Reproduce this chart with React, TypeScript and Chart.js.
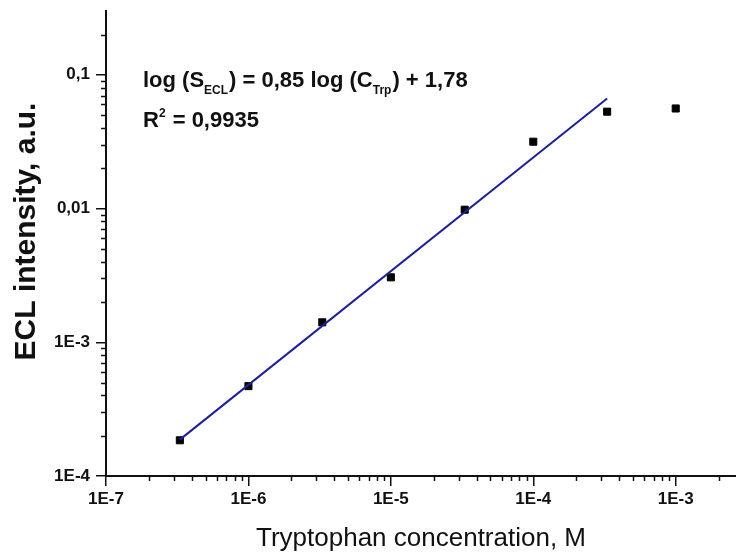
import React, { useEffect, useRef } from "react";
import { Chart, registerables } from "chart.js";

Chart.register(...registerables);

// ---- data ----
const concentrations = [3.3e-7, 1e-6, 3.3e-6, 1e-5, 3.3e-5, 1e-4, 3.3e-4, 1e-3];
const intensities = [1.85e-4, 4.7e-4, 1.41e-3, 3.06e-3, 9.8e-3, 0.0316, 0.053, 0.056];
const fitX = [3.3e-7, 3.3e-4];
const fitY = [1.87e-4, 0.0664];
const xMajorTicks = [1e-7, 1e-6, 1e-5, 1e-4, 1e-3];
const xTickLabels = ["1E-7", "1E-6", "1E-5", "1E-4", "1E-3"];
const yMajorTicks = [1e-4, 1e-3, 1e-2, 1e-1];
const yTickLabels = ["1E-4", "1E-3", "0,01", "0,1"];
const yTitle = "ECL intensity, a.u.";

const FONT = '"Liberation Sans", Arial, Helvetica, sans-serif';

const minorTicksPlugin = {
  id: "minorTicks",
  afterDraw(chart: any) {
    const { ctx, chartArea, scales } = chart;
    const xs = scales.x;
    const ys = scales.y;
    ctx.save();
    ctx.strokeStyle = "#111";
    ctx.lineWidth = 1.5;
    for (let d = -9; d <= 1; d++) {
      for (let m = 2; m <= 9; m++) {
        const v = m * Math.pow(10, d);
        if (v > xs.min && v <= xs.max) {
          const px = Math.round(xs.getPixelForValue(v)) + 0.5;
          ctx.beginPath();
          ctx.moveTo(px, chartArea.bottom);
          ctx.lineTo(px, chartArea.bottom + 5);
          ctx.stroke();
        }
        if (v > ys.min && v <= ys.max) {
          const py = Math.round(ys.getPixelForValue(v)) + 0.5;
          ctx.beginPath();
          ctx.moveTo(chartArea.left, py);
          ctx.lineTo(chartArea.left - 5, py);
          ctx.stroke();
        }
      }
    }
    ctx.restore();
  },
};

const yTitlePlugin = {
  id: "yTitle",
  afterDraw(chart: any) {
    const { ctx, chartArea } = chart;
    ctx.save();
    ctx.translate(27, (chartArea.top + chartArea.bottom) / 2 - 12);
    ctx.rotate(-Math.PI / 2);
    ctx.font = `bold 30px ${FONT}`;
    ctx.fillStyle = "#111";
    ctx.textAlign = "center";
    ctx.textBaseline = "middle";
    ctx.fillText(yTitle, 0, 0);
    ctx.restore();
  },
};

const annotationPlugin = {
  id: "fitAnnotation",
  afterDraw(chart: any) {
    const { ctx, chartArea } = chart;
    const x0 = chartArea.left + 37;
    const b1 = chartArea.top + 75.5;
    const b2 = chartArea.top + 115.5;
    const big = `bold 22px ${FONT}`;
    const small = `bold 12px ${FONT}`;
    ctx.save();
    ctx.fillStyle = "#111";
    ctx.textAlign = "left";
    ctx.textBaseline = "alphabetic";
    const segs1: [string, string, number][] = [
      ["log (S", big, 0],
      ["ECL", small, 7.5],
      [") = 0,85 log (C", big, 0],
      ["Trp", small, 7.5],
      [") + 1,78", big, 0],
    ];
    let x = x0;
    for (const [t, f, dy] of segs1) {
      ctx.font = f;
      ctx.fillText(t, x, b1 + dy);
      x += ctx.measureText(t).width + (f === small ? 1 : 0);
    }
    const segs2: [string, string, number][] = [
      ["R", big, 0],
      ["2", small, -10],
      [" = 0,9935", big, 0],
    ];
    x = x0;
    for (const [t, f, dy] of segs2) {
      ctx.font = f;
      ctx.fillText(t, x, b2 + dy);
      x += ctx.measureText(t).width + (f === small ? 1 : 0);
    }
    ctx.restore();
  },
};

export default function App() {
  const ref = useRef<HTMLCanvasElement | null>(null);

  useEffect(() => {
    if (!ref.current) return;
    const chart = new Chart(ref.current, {
      type: "scatter",
      data: {
        datasets: [
          {
            label: "Data",
            data: concentrations.map((c, i) => ({ x: c, y: intensities[i] })),
            pointStyle: "rect",
            pointRadius: 5,
            pointBackgroundColor: "#000",
            pointBorderColor: "#000",
            pointBorderWidth: 1,
            showLine: false,
            order: 1,
          },
          {
            label: "Fit",
            data: fitX.map((c, i) => ({ x: c, y: fitY[i] })),
            showLine: true,
            borderColor: "#1e1e9a",
            borderWidth: 2,
            pointRadius: 0,
            fill: false,
            order: 0,
          },
        ],
      },
      options: {
        animation: false,
        responsive: true,
        maintainAspectRatio: false,
        layout: { autoPadding: false, padding: { top: 11, right: 0, bottom: 0, left: 0 } },
        plugins: {
          legend: { display: false },
          tooltip: { enabled: false },
        },
        scales: {
          x: {
            type: "logarithmic",
            position: "bottom",
            min: 1e-7,
            max: 2.65e-3,
            afterBuildTicks: (scale: any) => {
              scale.ticks = xMajorTicks.map((v) => ({ value: v }));
            },
            afterFit: (scale: any) => {
              scale.height = 76;
              scale.paddingLeft = 0;
              scale.paddingRight = 0;
              scale.paddingTop = 0;
              scale.paddingBottom = 0;
            },
            ticks: {
              autoSkip: false,
              maxRotation: 0,
              padding: 3,
              color: "#111",
              font: { family: FONT, size: 17, weight: "bold" },
              callback: (_v: any, i: number) => xTickLabels[i],
            },
            grid: {
              drawOnChartArea: false,
              drawTicks: true,
              tickLength: 10,
              color: "#111",
              lineWidth: 1.5,
            },
            border: { display: true, color: "#111", width: 2 },
            title: {
              display: true,
              text: "Tryptophan concentration, M",
              color: "#111",
              font: { family: FONT, size: 26, weight: "normal", lineHeight: 1 },
              padding: { top: 0, bottom: 0 },
            },
          },
          y: {
            type: "logarithmic",
            position: "left",
            min: 1e-4,
            max: 0.3,
            afterBuildTicks: (scale: any) => {
              scale.ticks = yMajorTicks.map((v) => ({ value: v }));
            },
            afterFit: (scale: any) => {
              scale.width = 106;
              scale.paddingLeft = 0;
              scale.paddingRight = 0;
              scale.paddingTop = 0;
              scale.paddingBottom = 0;
            },
            ticks: {
              autoSkip: false,
              padding: 6,
              color: "#111",
              font: { family: FONT, size: 17, weight: "bold" },
              callback: (_v: any, i: number) => yTickLabels[i],
            },
            grid: {
              drawOnChartArea: false,
              drawTicks: true,
              tickLength: 10,
              color: "#111",
              lineWidth: 1.5,
            },
            border: { display: true, color: "#111", width: 2 },
            title: { display: false, text: yTitle },
          },
        },
      },
      plugins: [minorTicksPlugin, yTitlePlugin, annotationPlugin],
    });
    return () => chart.destroy();
  }, []);

  return (
    <div style={{ position: "fixed", left: 0, top: 0, width: 736, height: 552, background: "#fff" }}>
      <canvas ref={ref} />
    </div>
  );
}
